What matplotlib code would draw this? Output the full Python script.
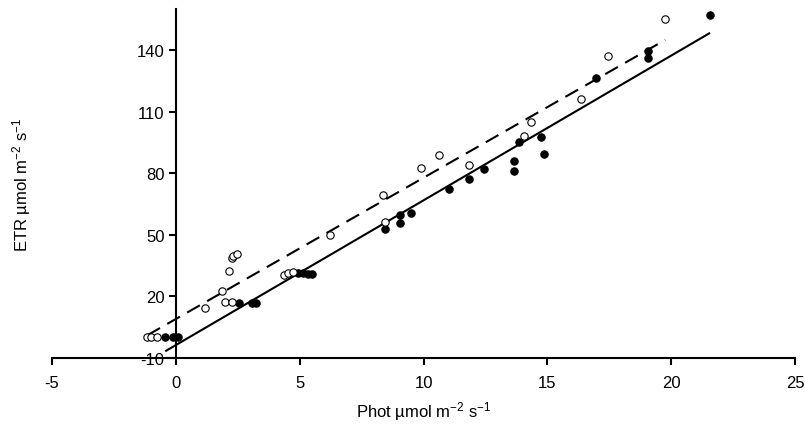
import matplotlib
matplotlib.use("Agg")
import matplotlib.pyplot as plt
import numpy as np

plt.rcParams['font.family'] = ['Liberation Sans', 'DejaVu Sans']
plt.rcParams['mathtext.fontset'] = 'custom'
plt.rcParams['mathtext.rm'] = 'Liberation Sans'
plt.rcParams['mathtext.it'] = 'Liberation Sans'
plt.rcParams['axes.unicode_minus'] = False

# Filled (closed) symbols
filled_x = [-0.43, -0.11, 0.07, 2.56, 3.08, 3.22, 4.93, 5.13, 5.33, 5.49,
            8.43, 9.04, 9.04, 9.49, 11.03, 11.84, 12.44, 13.66, 13.66, 13.86,
            14.76, 14.86, 16.96, 19.05, 19.05, 21.57]
filled_y = [0.0, 0.0, 0.0, 16.7, 16.7, 16.7, 31.5, 31.5, 31.0, 31.1,
            52.6, 59.5, 55.7, 60.6, 72.2, 77.0, 81.9, 86.1, 81.0, 95.4,
            97.6, 89.5, 126.4, 139.6, 136.3, 157.2]

# Open symbols
open_x = [-1.15, -1.01, -0.78, 1.17, 1.86, 2.0, 2.27, 2.16, 2.25, 2.29, 2.46,
          4.36, 4.52, 4.72, 6.21, 8.37, 8.46, 9.88, 10.63, 11.84, 14.05, 14.35,
          16.36, 17.45, 19.76]
open_y = [0.0, 0.0, 0.0, 14.4, 22.8, 17.1, 17.1, 32.6, 38.6, 39.6, 40.8,
          30.6, 31.3, 31.8, 50.0, 69.2, 56.2, 82.5, 88.7, 83.8, 98.1, 105.1,
          116.0, 137.0, 155.0]

# Regression lines (slope, intercept)
fit_filled = [7.05, -3.7]
fit_open = [6.88, 9.0]

x_ticks = [-5, 0, 5, 10, 15, 20, 25]
y_ticks = [-10, 20, 50, 80, 110, 140]

fig = plt.figure(figsize=(8.05, 4.35), dpi=100)
ax = fig.add_axes([0.0646, 0.1747, 0.9230, 0.8023])

xs = np.array([min(filled_x), max(filled_x)])
ax.plot(xs, fit_filled[0] * xs + fit_filled[1], color='black', lw=1.5, solid_capstyle='butt')
xo = np.array([min(open_x), max(open_x)])
ax.plot(xo, fit_open[0] * xo + fit_open[1], color='black', lw=1.5, dashes=(7, 4))

ax.plot(filled_x, filled_y, 'o', ms=5.3, mfc='black', mec='black', mew=0.8, clip_on=False)
ax.plot(open_x, open_y, 'o', ms=5.3, mfc='white', mec='black', mew=0.8, clip_on=False)

ax.set_xlim(-5, 25)
ax.set_ylim(-10, 160)
ax.set_xticks(x_ticks)
ax.set_yticks(y_ticks)

ax.spines['top'].set_visible(False)
ax.spines['right'].set_visible(False)
ax.spines['left'].set_position(('data', 0))
ax.spines['left'].set_linewidth(1.5)
ax.spines['bottom'].set_linewidth(1.5)
ax.tick_params(axis='both', direction='out', length=5, width=1.5, labelsize=12, pad=3)
ax.tick_params(axis='x', pad=7)

ax.set_xlabel(r'Phot µmol m$^{-2}$ s$^{-1}$', fontsize=12, labelpad=7)
ax.set_ylabel(r'ETR µmol m$^{-2}$ s$^{-1}$', fontsize=12)
ax.yaxis.set_label_coords(-0.026, 0.5)

fig.savefig('out.png', dpi=100)
